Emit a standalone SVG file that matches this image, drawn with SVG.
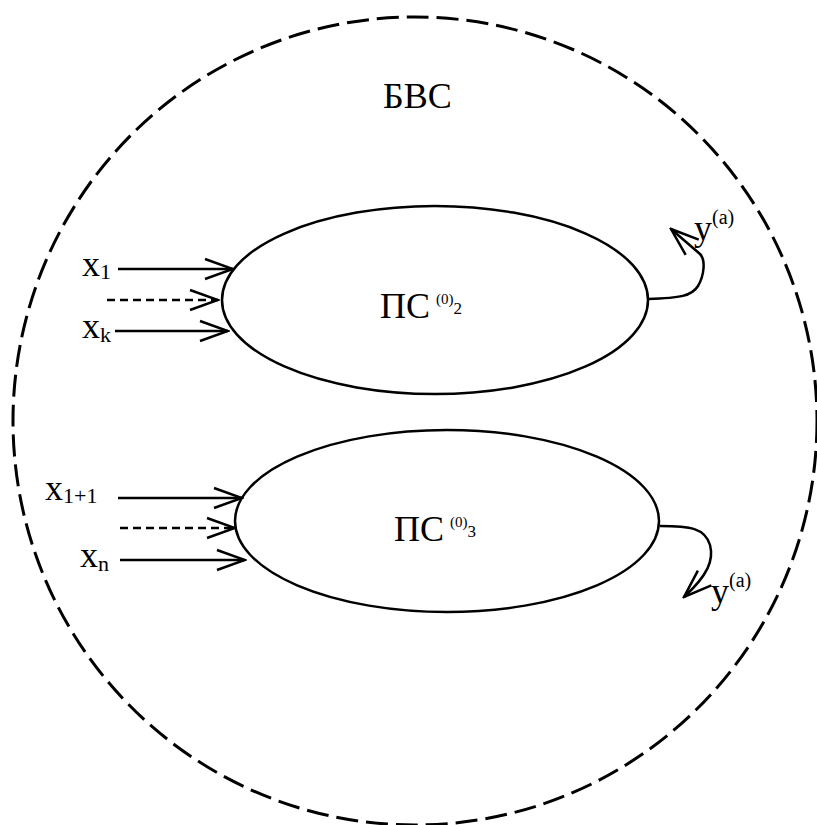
<svg xmlns="http://www.w3.org/2000/svg" width="817" height="825" viewBox="0 0 817 825">
<defs>
<style>
.t{font-family:"Liberation Serif","Times New Roman",serif;fill:#000}
.ln{stroke:#000;stroke-width:2.5;fill:none}
.dash{stroke:#000;stroke-width:2.5;fill:none;stroke-dasharray:8,5}
.el{stroke:#000;stroke-width:2.5;fill:#fff}
</style>
<marker id="ah2" viewBox="0 0 32 24" refX="30" refY="12" markerWidth="32" markerHeight="24" markerUnits="userSpaceOnUse" orient="auto">
<path d="M2,2 L30,12 L2,22" fill="none" stroke="#000" stroke-width="2.5"/>
</marker>
</defs>
<g id="bvs">
<ellipse cx="415" cy="421" rx="402" ry="404" fill="none" stroke="#000" stroke-width="3" stroke-dasharray="22,8"/>
<text class="t" x="383" y="108" font-size="36">БВС</text>
</g>
<g id="ps2">
<ellipse class="el" cx="435" cy="300" rx="213" ry="94"/>
<text class="t" x="380" y="318" font-size="36">ПС<tspan font-size="15" dy="-14" dx="6">(0)</tspan><tspan font-size="17" dy="10">2</tspan></text>
</g>
<g id="ps3">
<ellipse class="el" cx="447" cy="521" rx="212" ry="91"/>
<text class="t" x="394" y="541" font-size="36">ПС<tspan font-size="15" dy="-14" dx="6">(0)</tspan><tspan font-size="17" dy="10">3</tspan></text>
</g>
<g id="labels">
<text class="t" x="82" y="276" font-size="36">x<tspan font-size="22" dy="3">1</tspan></text>
<text class="t" x="82" y="338" font-size="36">x<tspan font-size="22" dy="4">k</tspan></text>
<text class="t" x="45" y="500" font-size="36">x<tspan font-size="22" dy="3">1+1</tspan></text>
<text class="t" x="80" y="567" font-size="36">x<tspan font-size="22" dy="4">n</tspan></text>
<text class="t" x="694" y="240" font-size="36">y<tspan font-size="20" dy="-16">(a)</tspan></text>
<text class="t" x="711" y="603" font-size="36">y<tspan font-size="20" dy="-16">(a)</tspan></text>
</g>
<g id="connectors">
<line class="ln" x1="118" y1="269" x2="233" y2="269" marker-end="url(#ah2)"/>
<line class="dash" x1="107" y1="300" x2="218" y2="300" marker-end="url(#ah2)"/>
<line class="ln" x1="115" y1="331" x2="228" y2="331" marker-end="url(#ah2)"/>
<line class="ln" x1="118" y1="498" x2="242" y2="498" marker-end="url(#ah2)"/>
<line class="dash" x1="120" y1="528" x2="235" y2="528" marker-end="url(#ah2)"/>
<line class="ln" x1="120" y1="560" x2="245" y2="560" marker-end="url(#ah2)"/>
<path class="ln" d="M648,299 C680,298 692,296 698,286 C704,276 706,260 700,254 L671,229" marker-end="url(#ah2)"/>
<path class="ln" d="M660,526 C690,526 705,528 710,545 C714,560 708,575 684,597" marker-end="url(#ah2)"/>
</g>
</svg>
